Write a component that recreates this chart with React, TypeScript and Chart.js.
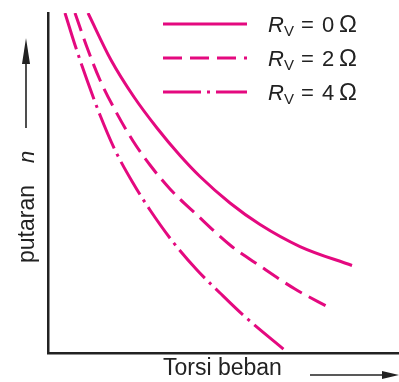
import React, { useEffect, useRef } from "react";
import { Chart, registerables } from "chart.js";

Chart.register(...registerables);

// Data (abstract units: x = load torque, y = speed)
const seriesLabels = ["0", "2", "4"];
const solidX = [1.14, 1.795, 2.45, 3.105, 3.761, 4.33, 5.185, 6.04, 7.179, 8.661];
const solidY = [10.0, 8.618, 7.529, 6.618, 5.809, 5.191, 4.412, 3.779, 3.132, 2.574];
const dashedX = [0.769, 1.14, 1.481, 1.909, 2.422, 2.906, 3.476, 4.245, 5.185, 6.04, 7.037, 8.034];
const dashedY = [10.0, 8.912, 8.029, 7.147, 6.235, 5.529, 4.824, 4.059, 3.176, 2.559, 1.882, 1.324];
const dashDotX = [0.484, 0.769, 1.111, 1.481, 1.909, 2.422, 2.906, 3.561, 4.245, 4.9, 5.556, 6.809];
const dashDotY = [10.0, 9.059, 8.029, 7.0, 5.971, 5.0, 4.206, 3.265, 2.441, 1.765, 1.118, 0.029];

const xTitle = "Torsi beban";
const yTitle = "putaran";
const ySymbol = "n";

const MAGENTA = "#e4097f";
const INK = "#222222";
const FONT = "Liberation Sans, Arial, sans-serif";

const toPoints = (xs: number[], ys: number[]) => xs.map((x, i) => ({ x, y: ys[i] }));

const annotations = {
  id: "annotations",
  afterDraw(chart: any) {
    const ctx: CanvasRenderingContext2D = chart.ctx;
    ctx.save();
    // legend
    chart.data.datasets.forEach((ds: any, i: number) => {
      const y = 24 + i * 34;
      ctx.strokeStyle = ds.borderColor;
      ctx.lineWidth = 3;
      ctx.setLineDash(ds.borderDash || []);
      ctx.beginPath();
      ctx.moveTo(163, y);
      ctx.lineTo(247, y);
      ctx.stroke();
      ctx.setLineDash([]);
      ctx.fillStyle = INK;
      ctx.textBaseline = "alphabetic";
      ctx.textAlign = "left";
      const bx = 268;
      const by = y + 8;
      ctx.font = `italic 22px ${FONT}`;
      ctx.fillText("R", bx, by);
      const rw = ctx.measureText("R").width;
      ctx.font = `15px ${FONT}`;
      ctx.fillText("V", bx + rw, by + 4);
      ctx.font = `22px ${FONT}`;
      ctx.fillText("=", bx + 33, by);
      ctx.fillText(seriesLabels[i], bx + 54, by);
      ctx.font = `24px ${FONT}`;
      ctx.fillText("Ω", bx + 71, by);
    });

    // y title
    ctx.fillStyle = INK;
    ctx.font = `23px ${FONT}`;
    ctx.save();
    ctx.translate(34, 263);
    ctx.rotate(-Math.PI / 2);
    ctx.fillText(yTitle, 0, 0);
    ctx.restore();
    ctx.save();
    ctx.font = `italic 22px ${FONT}`;
    ctx.translate(34, 163);
    ctx.rotate(-Math.PI / 2);
    ctx.fillText(ySymbol, 0, 0);
    ctx.restore();
    // y arrow
    ctx.strokeStyle = INK;
    ctx.lineWidth = 1.6;
    ctx.beginPath();
    ctx.moveTo(26, 128);
    ctx.lineTo(26, 58);
    ctx.stroke();
    ctx.beginPath();
    ctx.moveTo(26, 38);
    ctx.lineTo(22, 64);
    ctx.lineTo(30, 64);
    ctx.closePath();
    ctx.fill();

    // x title
    ctx.font = `23px ${FONT}`;
    ctx.fillText(xTitle, 163, 375);
    // x arrow
    ctx.beginPath();
    ctx.moveTo(310, 375);
    ctx.lineTo(385, 375);
    ctx.stroke();
    ctx.beginPath();
    ctx.moveTo(399, 375);
    ctx.lineTo(382, 371);
    ctx.lineTo(382, 379);
    ctx.closePath();
    ctx.fill();
    ctx.restore();
  },
};

export default function App() {
  const ref = useRef<HTMLCanvasElement>(null);
  useEffect(() => {
    if (!ref.current) return;
    const common = {
      borderColor: MAGENTA,
      borderWidth: 3,
      pointRadius: 0,
      fill: false,
      cubicInterpolationMode: "monotone" as const,
    };
    const chart = new Chart(ref.current, {
      type: "line",
      data: {
        datasets: [
          { ...common, label: "0", data: toPoints(solidX, solidY), borderDash: [] },
          { ...common, label: "2", data: toPoints(dashedX, dashedY), borderDash: [19, 8] },
          { ...common, label: "4", data: toPoints(dashDotX, dashDotY), borderDash: [38, 6, 3, 6] },
        ],
      },
      options: {
        animation: false,
        responsive: false,
        layout: { padding: { left: 48, top: 13, right: 0, bottom: 29 } },
        plugins: { legend: { display: false }, tooltip: { enabled: false } },
        scales: {
          x: {
            type: "linear",
            min: 0,
            max: 10,
            grid: { display: false, drawTicks: false },
            ticks: { display: false },
            border: { display: true, color: INK, width: 2.5 },
          },
          y: {
            type: "linear",
            min: 0,
            max: 10,
            grid: { display: false, drawTicks: false },
            ticks: { display: false },
            border: { display: true, color: INK, width: 2.5 },
          },
        },
      },
      plugins: [annotations],
    });
    return () => chart.destroy();
  }, []);
  return (
    <div style={{ position: "fixed", left: 0, top: 0, width: 399, height: 382, background: "#fff" }}>
      <canvas ref={ref} width={399} height={382} style={{ display: "block" }} />
    </div>
  );
}
